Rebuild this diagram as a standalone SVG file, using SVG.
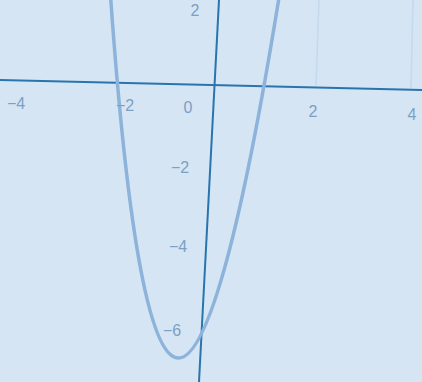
<svg xmlns="http://www.w3.org/2000/svg" width="422" height="382" viewBox="0 0 422 382">
<style>
.bg{fill:#d5e5f4}
.grid{stroke:#c5d9ec;stroke-width:1.5;fill:none}
.axis{stroke:#2a74ad;stroke-width:2;fill:none}
.curve{stroke:#8db3da;stroke-width:3.5;fill:none;stroke-linecap:round}
.lbl{font-family:"Liberation Sans",Arial,sans-serif;font-size:16px;fill:#7d9fc4;text-anchor:middle}
</style>
<rect class="bg" x="0" y="0" width="422" height="382"/>
<g id="grid">
<line class="grid" x1="319" y1="0" x2="316" y2="86"/>
<line class="grid" x1="413" y1="0" x2="411" y2="88"/>
</g>
<g id="axes">
<line class="axis" x1="0" y1="80" x2="422" y2="90"/>
<line class="axis" x1="219" y1="0" x2="199" y2="382"/>
</g>
<g id="curve">
<path class="curve" transform="translate(178,358) rotate(2.6)" d="M-88,-395 Q0,395 88,-395"/>
</g>
<g id="labels">
<text class="lbl" x="16" y="109">−4</text>
<text class="lbl" x="125" y="111">−2</text>
<text class="lbl" x="188" y="113">0</text>
<text class="lbl" x="313" y="117">2</text>
<text class="lbl" x="412" y="120">4</text>
<text class="lbl" x="195" y="16">2</text>
<text class="lbl" x="180" y="173">−2</text>
<text class="lbl" x="178" y="252">−4</text>
<text class="lbl" x="172" y="336">−6</text>
</g>
</svg>
